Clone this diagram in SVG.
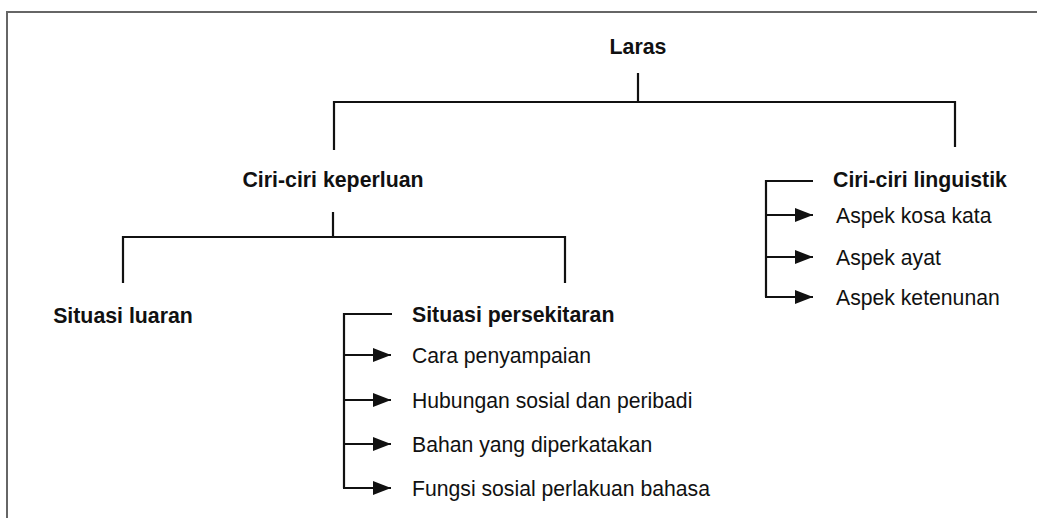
<svg xmlns="http://www.w3.org/2000/svg" width="1037" height="518" viewBox="0 0 1037 518">
<defs>
<marker id="arr" markerWidth="18" markerHeight="14" refX="18" refY="7" orient="auto" markerUnits="userSpaceOnUse">
<path d="M0,0 L18,7 L0,14 Z" fill="#111"/>
</marker>
<style>
.b{font-family:"Liberation Sans",Arial,sans-serif;font-weight:bold;font-size:21.3px;fill:#111}
.r{font-family:"Liberation Sans",Arial,sans-serif;font-size:21.2px;fill:#111}
.c{fill:none;stroke:#111;stroke-width:2.2}
.a{fill:none;stroke:#111;stroke-width:2.2;marker-end:url(#arr)}
.frame{fill:none;stroke:#666;stroke-width:2}
</style>
</defs>
<rect width="1037" height="518" fill="#fff"/>
<path class="frame" d="M7,518 V12 H1037"/>
<g id="connectors">
<path class="c" d="M638,73 V102"/>
<path class="c" d="M334,150 V102 H955 V147"/>
<path class="c" d="M333,212 V237"/>
<path class="c" d="M123,283 V237 H565 V283"/>
<path class="c" d="M392,314 H344 V488"/>
<path class="a" d="M344,355 H391"/>
<path class="a" d="M344,400 H391"/>
<path class="a" d="M344,444 H391"/>
<path class="a" d="M343,488 H391"/>
<path class="c" d="M813,181 H766 V297"/>
<path class="a" d="M766,215 H813"/>
<path class="a" d="M766,257 H813"/>
<path class="a" d="M765,297 H813"/>
</g>
<g id="laras"><text class="b" x="638" y="54" text-anchor="middle">Laras</text></g>
<g id="keperluan"><text class="b" x="333" y="187" text-anchor="middle">Ciri-ciri keperluan</text></g>
<g id="linguistik"><text class="b" x="833" y="187">Ciri-ciri linguistik</text></g>
<g id="luaran"><text class="b" x="123" y="323" text-anchor="middle">Situasi luaran</text></g>
<g id="persekitaran"><text class="b" x="412" y="322">Situasi persekitaran</text></g>
<g id="cara"><text class="r" x="412" y="363">Cara penyampaian</text></g>
<g id="hubungan"><text class="r" x="412" y="408">Hubungan sosial dan peribadi</text></g>
<g id="bahan"><text class="r" x="412" y="452">Bahan yang diperkatakan</text></g>
<g id="fungsi"><text class="r" x="412" y="496">Fungsi sosial perlakuan bahasa</text></g>
<g id="kosakata"><text class="r" x="836" y="223">Aspek kosa kata</text></g>
<g id="ayat"><text class="r" x="836" y="265">Aspek ayat</text></g>
<g id="ketenunan"><text class="r" x="836" y="305">Aspek ketenunan</text></g>
</svg>
